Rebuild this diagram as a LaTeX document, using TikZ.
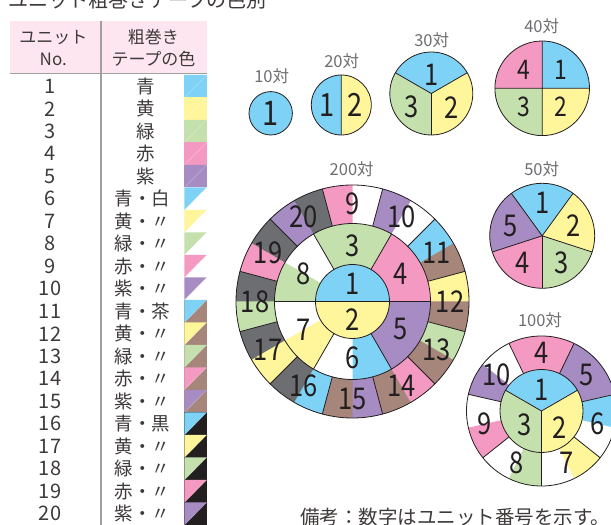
\documentclass[tikz,border=0pt]{standalone}
\usepackage{fontspec}
\setmainfont{Noto Sans CJK JP}
\newfontfamily\numfont[FakeStretch=0.85]{Noto Sans CJK JP}
\usepackage{tikz}

\definecolor{tapeblue}{HTML}{7ED2F6}
\definecolor{tapeyellow}{HTML}{FFF59B}
\definecolor{tapegreen}{HTML}{C4E0AD}
\definecolor{tapepink}{HTML}{F49AC2}
\definecolor{tapepurple}{HTML}{A78BC3}
\definecolor{tapebrown}{HTML}{A6857A}
\definecolor{tapedark}{HTML}{6D6E71}
\definecolor{tapeblack}{HTML}{231F20}
\definecolor{headpink}{HTML}{FDE6EF}
\definecolor{rulegray}{HTML}{9FA0A0}
\definecolor{titlegray}{HTML}{6D6E71}
\definecolor{textgray}{HTML}{3E3A39}

% wedge: start angle, end angle, radius, colour
\newcommand{\wedgefill}[4]{\fill[#4] (0,0) -- (#1:#3) arc[start angle=#1, end angle=#2, radius=#3] -- cycle;}
% band: start angle, end angle, inner radius, outer radius, colour
\newcommand{\bandfill}[5]{\fill[#5] (#1:#3) arc[start angle=#1, end angle=#2, radius=#3] -- (#2:#4) arc[start angle=#2, end angle=#1, radius=#4] -- cycle;}

\begin{document}
\begin{tikzpicture}[
    x=1pt,
    y=1pt,
    pieline/.style={draw=tapeblack, line width=0.8pt},
    pienum/.style={font=\numfont\fontsize{#1}{#1}\selectfont, text=tapeblack, inner sep=0pt},
    pienum/.default=30,
    pietitle/.style={font=\fontsize{16.5}{18}\selectfont, text=titlegray, inner sep=0pt},
    headtext/.style={font=\fontsize{17}{19}\selectfont, text=textgray, inner sep=0pt},
    numtext/.style={font=\fontsize{20}{22}\selectfont, text=textgray, inner sep=0pt},
    tapetext/.style={font=\fontsize{18.5}{20}\selectfont, text=textgray, inner sep=0pt},
    tableline/.style={draw=rulegray, line width=1.2pt}
]

\useasboundingbox (0,0) rectangle (611,525);
\clip (0,0) rectangle (611,525);
\fill[white] (0,0) rectangle (611,525);

\node[anchor=base west, font=\fontsize{20}{22}\selectfont, text=textgray, inner sep=0pt] (title) at (8,517) {ユニット粗巻きテープの色別};

% table
\fill[headpink] (10,451.7) rectangle (206.7,504);
\draw[tableline] (10,451.7) -- (206.7,451.7);
\draw[tableline] (101,504) -- (101,0);

\node[headtext] (headunit) at (53.3,487.7) {ユニット};
\node[headtext] (headno) at (53.3,465.7) {No.};
\node[headtext] (headtape) at (153.3,487.7) {粗巻き};
\node[headtext] (headcolor) at (153.5,465.7) {テープの色};

\foreach \n/\name/\tx/\pri/\sec in {
    1/青/146/tapeblue/tapeblue,
    2/黄/146/tapeyellow/tapeyellow,
    3/緑/146/tapegreen/tapegreen,
    4/赤/146/tapepink/tapepink,
    5/紫/146/tapepurple/tapepurple,
    6/青・白/142.5/tapeblue/white,
    7/黄・〃/142.5/tapeyellow/white,
    8/緑・〃/142.5/tapegreen/white,
    9/赤・〃/142.5/tapepink/white,
    10/紫・〃/142.5/tapepurple/white,
    11/青・茶/142.5/tapeblue/tapebrown,
    12/黄・〃/142.5/tapeyellow/tapebrown,
    13/緑・〃/142.5/tapegreen/tapebrown,
    14/赤・〃/142.5/tapepink/tapebrown,
    15/紫・〃/142.5/tapepurple/tapebrown,
    16/青・黒/142.5/tapeblue/tapeblack,
    17/黄・〃/142.5/tapeyellow/tapeblack,
    18/緑・〃/142.5/tapegreen/tapeblack,
    19/赤・〃/142.5/tapepink/tapeblack,
    20/紫・〃/142.5/tapepurple/tapeblack}{
    \pgfmathsetmacro\ytop{450-22.5*(\n-1)}
    \pgfmathsetmacro\ybot{\ytop-22.5}
    \pgfmathsetmacro\ymid{\ytop-11.25}
    \fill[\sec] (184.3,\ybot) rectangle (206.7,\ytop);
    \fill[\pri] (184.3,\ytop) -- (206.7,\ytop) -- (184.3,\ybot) -- cycle;
    \draw[white, opacity=0.35, line width=0.4pt] (184.3,\ybot) -- (206.7,\ytop);
    \node[numtext] (no\n) at (50,\ymid) {\n};
    \node[tapetext] (tape\n) at (\tx,\ymid) {\name};
}

% pies
\coordinate (c10) at (270.7,411.7);
\coordinate (c20) at (341.3,420);
\coordinate (c30) at (431.3,431.5);
\coordinate (c40) at (542.2,436.7);
\coordinate (c50) at (542.2,289.2);
\coordinate (c200) at (352.5,223.5);
\coordinate (c100) at (541.5,114);

\node[pietitle] (t10) at (271.7,449) {10対};
\node[pietitle] (t20) at (341.7,464) {20対};
\node[pietitle] (t30) at (431.7,484.3) {30対};
\node[pietitle] (t40) at (541.7,499) {40対};
\node[pietitle] (t200) at (351.7,355.7) {200対};
\node[pietitle] (t50) at (541.7,356) {50対};
\node[pietitle] (t100) at (540,205) {100対};

% 10
\begin{scope}[shift={(c10)}]
    \fill[tapeblue] (0,0) circle[radius=21.7];
    \draw[pieline] (0,0) circle[radius=21.7];
    \node[pienum=34] (p10-1) at (0,0) {1};
\end{scope}

% 20
\begin{scope}[shift={(c20)}]
    \wedgefill{90}{270}{30}{tapeblue}
    \wedgefill{-90}{90}{30}{tapeyellow}
    \draw[pieline] (0,0) circle[radius=30] (90:30) -- (270:30);
    \node[pienum=32] (p20-1) at (-14.5,0) {1};
    \node[pienum=32] (p20-2) at (14,0) {2};
\end{scope}

% 30
\begin{scope}[shift={(c30)}]
    \wedgefill{30}{150}{41.5}{tapeblue}
    \wedgefill{-90}{30}{41.5}{tapeyellow}
    \wedgefill{150}{270}{41.5}{tapegreen}
    \draw[pieline] (0,0) circle[radius=41.5];
    \foreach \a in {30,150,270}
        \draw[pieline] (0,0) -- (\a:41.5);
    \node[pienum] (p30-1) at (90:18.5) {1};
    \node[pienum] (p30-2) at (-34:24.5) {2};
    \node[pienum] (p30-3) at (-145:24) {3};
\end{scope}

% 40
\begin{scope}[shift={(c40)}]
    \wedgefill{0}{90}{47.3}{tapeblue}
    \wedgefill{-90}{0}{47.3}{tapeyellow}
    \wedgefill{180}{270}{47.3}{tapegreen}
    \wedgefill{90}{180}{47.3}{tapepink}
    \draw[pieline] (0,0) circle[radius=47.3] (-47.3,0) -- (47.3,0) (0,-47.3) -- (0,47.3);
    \node[pienum=27] (p40-1) at (45:26) {1};
    \node[pienum=27] (p40-2) at (-45:26) {2};
    \node[pienum=27] (p40-3) at (-135:26) {3};
    \node[pienum=27] (p40-4) at (135:26) {4};
\end{scope}

% 50
\begin{scope}[shift={(c50)}]
    \foreach \c [count=\i] in {tapeblue,tapeyellow,tapegreen,tapepink,tapepurple}{
        \pgfmathsetmacro\t{90-72*(\i-1)}
        \wedgefill{\t-36}{\t+36}{52.5}{\c}
    }
    \draw[pieline] (0,0) circle[radius=52.5];
    \foreach \i in {1,...,5}{
        \pgfmathsetmacro\t{90-72*(\i-1)}
        \draw[pieline] (0,0) -- (\t+36:52.5);
        \node[pienum] (p50-\i) at (\t:33) {\i};
    }
\end{scope}

% 200
\begin{scope}[shift={(c200)}]
    \wedgefill{0}{180}{37}{tapeblue}
    \wedgefill{180}{360}{37}{tapeyellow}
    \bandfill{60}{120}{37}{78}{tapegreen}
    \bandfill{0}{60}{37}{78}{tapepink}
    \bandfill{-60}{0}{37}{78}{tapepurple}
    \bandfill{-90}{-60}{37}{78}{tapeblue}
    \bandfill{-150}{-120}{37}{78}{tapeyellow}
    \bandfill{150}{180}{37}{78}{tapegreen}
    \foreach \n/\pri/\sec in {9/tapepink/white,10/tapepurple/white,
        11/tapeblue/tapebrown,12/tapeyellow/tapebrown,13/tapegreen/tapebrown,
        14/tapepink/tapebrown,15/tapepurple/tapebrown,
        16/tapeblue/tapedark,17/tapeyellow/tapedark,18/tapegreen/tapedark,
        19/tapepink/tapedark,20/tapepurple/tapedark}{
        \pgfmathsetmacro\t{90-30*(\n-9)}
        \bandfill{\t-15}{\t+15}{78}{116.5}{\sec}
        \bandfill{\t}{\t+15}{78}{116.5}{\pri}
    }
    \draw[pieline] (0,0) circle[radius=116.5] (0,0) circle[radius=78] (0,0) circle[radius=37];
    \draw[pieline] (180:78) -- (0:78);
    \foreach \a in {60,120,240,300}
        \draw[pieline] (\a:37) -- (\a:78);
    \foreach \a in {15,45,...,345}
        \draw[pieline] (\a:78) -- (\a:116.5);
    \node[pienum] (p200-1) at (0,18) {1};
    \node[pienum] (p200-2) at (0,-18.5) {2};
    \foreach \n/\a in {3/90,4/30,5/-30,6/-90,7/-150,8/150}
        \node[pienum] (p200-\n) at (\a:56) {\n};
    \foreach \n in {9,...,20}{
        \pgfmathsetmacro\t{90-30*(\n-9)}
        \node[pienum] (p200-\n) at (\t:97.5) {\n};
    }
\end{scope}

% 100
\begin{scope}[shift={(c100)}]
    \wedgefill{30}{150}{41.5}{tapeblue}
    \wedgefill{-90}{30}{41.5}{tapeyellow}
    \wedgefill{150}{270}{41.5}{tapegreen}
    \foreach \n/\pri/\sec in {4/tapepink/tapepink,5/tapepurple/tapepurple,
        6/tapeblue/white,7/tapeyellow/white,8/tapegreen/white,
        9/tapepink/white,10/tapepurple/white}{
        \pgfmathsetmacro\t{90-360/7*(\n-4)}
        \bandfill{\t-25.714}{\t+25.714}{41.5}{75}{\sec}
        \bandfill{\t}{\t+25.714}{41.5}{75}{\pri}
    }
    \draw[pieline] (0,0) circle[radius=75] (0,0) circle[radius=41.5];
    \foreach \a in {30,150,270}
        \draw[pieline] (0,0) -- (\a:41.5);
    \foreach \n in {4,...,10}{
        \pgfmathsetmacro\t{90-360/7*(\n-4)}
        \draw[pieline] (\t+25.714:41.5) -- (\t+25.714:75);
        \node[pienum] (p100-\n) at (\t:58) {\n};
    }
    \node[pienum] (p100-1) at (90:21) {1};
    \node[pienum] (p100-2) at (-43:25) {2};
    \node[pienum] (p100-3) at (-140:21.6) {3};
\end{scope}

\node[anchor=base west, font=\fontsize{19.5}{21}\selectfont, text=textgray, inner sep=0pt] (note) at (300,0) {備考：数字はユニット番号を示す。};

\end{tikzpicture}
\end{document}
